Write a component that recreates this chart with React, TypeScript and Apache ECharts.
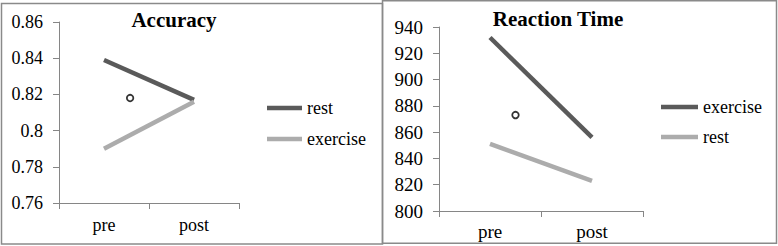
import React, { useEffect, useRef } from "react";
import * as echarts from "echarts";

const categories = ["pre", "post"];
const accRest = [0.839, 0.817];
const accExercise = [0.79, 0.816];
const accMarker = [[0.79, 0.818]];
const rtExercise = [932, 856];
const rtRest = [851, 823];
const rtMarker = [[0.75, 873]];

const DARK = "#5a5a5a";
const LIGHT = "#acacac";
const AXIS = "#868686";
const FONT = '"Liberation Serif", "Times New Roman", serif';

export default function App() {
  const ref = useRef<HTMLDivElement>(null);
  useEffect(() => {
    const chart = echarts.init(ref.current!, null, { renderer: "svg" });
    const yAxisCommon = (fs: number) => ({
      type: "value" as const,
      axisLine: { show: true, lineStyle: { color: AXIS, width: 1 } },
      axisTick: { show: true, length: 6, lineStyle: { color: AXIS } },
      splitLine: { show: false },
      axisLabel: { color: "#000", fontFamily: FONT, fontSize: fs, margin: 16 },
    });
    const xCat = (gi: number, fs: number, margin: number) => ({
      type: "category" as const,
      gridIndex: gi,
      data: categories,
      boundaryGap: true,
      axisLine: { show: true, lineStyle: { color: AXIS, width: 1 } },
      axisTick: { show: true, length: 6, alignWithLabel: false, lineStyle: { color: AXIS } },
      axisLabel: { color: "#000", fontFamily: FONT, fontSize: fs, margin },
    });
    const lineSeries = (name: string, data: number[], color: string, xi: number, yi: number) => ({
      type: "line" as const,
      name,
      data,
      xAxisIndex: xi,
      yAxisIndex: yi,
      color,
      symbol: "none",
      showSymbol: false,
      lineStyle: { color, width: 4.5, cap: "butt" },
    });
    const markerSeries = (data: number[][], xi: number, yi: number) => ({
      type: "scatter" as const,
      data,
      xAxisIndex: xi,
      yAxisIndex: yi,
      symbol: "circle",
      symbolSize: 6.5,
      itemStyle: { color: "#fff", borderColor: "#000", borderWidth: 1.8 },
      silent: true,
    });
    chart.setOption({
      animation: false,
      backgroundColor: "#fff",
      grid: [
        { left: 59, top: 22, width: 180, height: 181 },
        { left: 439, top: 27, width: 204, height: 184 },
      ],
      xAxis: [
        xCat(0, 18, 13),
        { type: "value", gridIndex: 0, min: 0, max: 2, show: false },
        xCat(1, 19, 11),
        { type: "value", gridIndex: 1, min: 0, max: 2, show: false },
      ],
      yAxis: [
        {
          ...yAxisCommon(18),
          gridIndex: 0,
          min: 0.76,
          max: 0.86,
          interval: 0.02,
          axisLabel: {
            ...yAxisCommon(18).axisLabel,
            formatter: (v: number) => String(Number(v.toFixed(2))),
          },
        },
        { ...yAxisCommon(19), gridIndex: 1, min: 800, max: 940, interval: 20 },
      ],
      legend: [
        {
          orient: "vertical",
          left: 267,
          top: 99,
          padding: 0,
          itemWidth: 35,
          itemHeight: 4.5,
          itemGap: 13,
          icon: "rect",
          data: ["rest|A", "exercise|A"],
          formatter: (n: string) => n.split("|")[0],
          textStyle: { fontFamily: FONT, fontSize: 18, color: "#000" },
        },
        {
          orient: "vertical",
          left: 661,
          top: 98,
          padding: 0,
          itemWidth: 37,
          itemHeight: 4.5,
          itemGap: 12,
          icon: "rect",
          data: ["exercise|B", "rest|B"],
          formatter: (n: string) => n.split("|")[0],
          textStyle: { fontFamily: FONT, fontSize: 18, color: "#000" },
        },
      ],
      graphic: [
        {
          type: "rect",
          shape: { x: 1.5, y: 3.5, width: 381, height: 240.5 },
          style: { fill: "none", stroke: "#8a8a8a", lineWidth: 1.5 },
          silent: true,
        },
        {
          type: "rect",
          shape: { x: 382.5, y: 0.75, width: 394, height: 242.5 },
          style: { fill: "none", stroke: "#8a8a8a", lineWidth: 1.5 },
          silent: true,
        },
        {
          type: "text",
          x: 174,
          y: 20,
          style: {
            text: "Accuracy",
            font: `bold 21px ${FONT}`,
            fill: "#000",
            textAlign: "center",
            textVerticalAlign: "middle",
            align: "center",
            verticalAlign: "middle",
          },
          silent: true,
        },
        {
          type: "text",
          x: 558,
          y: 19,
          style: {
            text: "Reaction Time",
            font: `bold 21px ${FONT}`,
            fill: "#000",
            textAlign: "center",
            textVerticalAlign: "middle",
            align: "center",
            verticalAlign: "middle",
          },
          silent: true,
        },
      ],
      series: [
        lineSeries("rest|A", accRest, DARK, 0, 0),
        lineSeries("exercise|A", accExercise, LIGHT, 0, 0),
        markerSeries(accMarker, 1, 0),
        lineSeries("exercise|B", rtExercise, DARK, 2, 1),
        lineSeries("rest|B", rtRest, LIGHT, 2, 1),
        markerSeries(rtMarker, 3, 1),
      ],
    });
    return () => chart.dispose();
  }, []);
  return (
    <div
      ref={ref}
      style={{ position: "fixed", left: 0, top: 0, width: 778, height: 246 }}
    />
  );
}
